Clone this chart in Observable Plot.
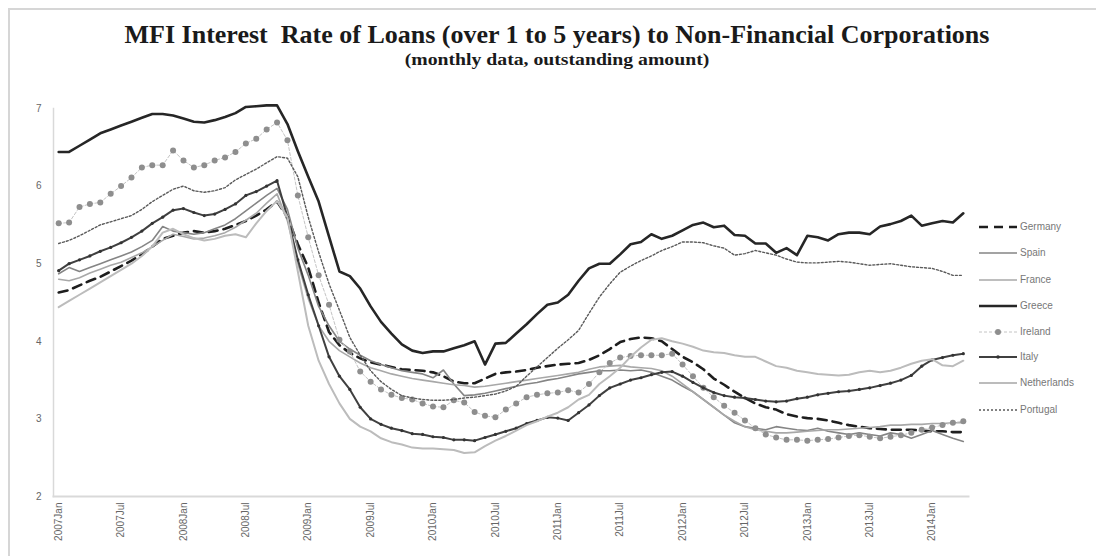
<!DOCTYPE html>
<html><head><meta charset="utf-8">
<script src="https://cdn.jsdelivr.net/npm/d3@7"></script>
<script src="https://cdn.jsdelivr.net/npm/@observablehq/plot@0.6"></script>
<style>
body{margin:0;background:#fff;}
#wrap{position:relative;width:1096px;height:556px;overflow:hidden;background:#fff;}
#frame{position:absolute;left:8px;top:8px;width:1200px;height:700px;border:2px solid #d6d6d6;box-sizing:border-box;}
#title{position:absolute;left:9px;top:21px;width:1096px;text-align:center;font-family:"Liberation Serif",serif;font-weight:bold;font-size:25px;color:#1a1a1a;white-space:pre;transform:scaleX(1.04);transform-origin:548px 0;}
#subtitle{position:absolute;left:9px;top:50px;width:1096px;text-align:center;font-family:"Liberation Serif",serif;font-weight:bold;font-size:17px;color:#1a1a1a;transform:scaleX(1.16);transform-origin:548px 0;}
#chart{position:absolute;left:0;top:80px;}
#legend{position:absolute;left:978px;top:0;font-family:"Liberation Sans",sans-serif;font-size:10px;color:#777;}
.row{position:absolute;left:0;white-space:nowrap;height:14px;}
.row svg{position:absolute;left:0;top:0;}
.row span{position:absolute;left:42px;top:0;line-height:14px;}
</style></head>
<body>
<div id="wrap">
  <div id="frame"></div>
  <div id="title">MFI Interest  Rate of Loans (over 1 to 5 years) to Non-Financial Corporations</div>
  <div id="subtitle">(monthly data, outstanding amount)</div>
  <div id="chart"></div>
  <div id="legend"></div>
</div>
<script>
// Monthly observations, 2007 Jan .. 2014 Apr
const tickLabels = ["2007Jan","2007Jul","2008Jan","2008Jul","2009Jan","2009Jul","2010Jan","2010Jul","2011Jan","2011Jul","2012Jan","2012Jul","2013Jan","2013Jul","2014Jan"];

const germany = [4.63,4.66,4.72,4.78,4.83,4.9,4.97,5.04,5.12,5.22,5.32,5.36,5.4,5.42,5.4,5.42,5.45,5.5,5.55,5.62,5.7,5.8,5.6,5.25,4.95,4.5,4.12,3.95,3.85,3.78,3.73,3.7,3.67,3.64,3.63,3.62,3.6,3.55,3.48,3.46,3.46,3.52,3.58,3.6,3.61,3.63,3.66,3.68,3.7,3.71,3.72,3.76,3.82,3.9,3.99,4.03,4.05,4.04,4.0,3.9,3.8,3.73,3.64,3.52,3.44,3.35,3.27,3.2,3.15,3.12,3.06,3.03,3.01,3.0,2.98,2.95,2.92,2.9,2.88,2.87,2.86,2.86,2.86,2.85,2.84,2.84,2.83,2.83];

const spain = [4.87,4.95,4.9,4.95,5.0,5.05,5.1,5.15,5.22,5.3,5.48,5.42,5.4,5.38,5.4,5.45,5.5,5.58,5.68,5.78,5.88,5.97,5.7,5.2,4.85,4.45,4.2,4.0,3.9,3.82,3.75,3.7,3.66,3.62,3.6,3.58,3.53,3.63,3.45,3.3,3.31,3.33,3.36,3.39,3.42,3.45,3.47,3.5,3.52,3.55,3.58,3.6,3.62,3.62,3.63,3.62,3.63,3.6,3.55,3.5,3.42,3.35,3.25,3.15,3.05,2.95,2.9,2.88,2.86,2.9,2.88,2.86,2.85,2.88,2.84,2.82,2.8,2.82,2.8,2.78,2.82,2.8,2.75,2.8,2.85,2.8,2.75,2.71];

const france = [4.8,4.78,4.82,4.88,4.93,4.98,5.02,5.08,5.14,5.22,5.3,5.38,5.35,5.32,5.33,5.36,5.4,5.47,5.56,5.65,5.78,5.9,5.55,5.0,4.55,4.2,4.0,3.88,3.8,3.72,3.66,3.62,3.58,3.55,3.52,3.5,3.48,3.46,3.44,3.43,3.41,3.42,3.44,3.46,3.48,3.5,3.52,3.54,3.56,3.58,3.6,3.64,3.67,3.68,3.69,3.67,3.66,3.65,3.62,3.55,3.45,3.35,3.25,3.15,3.05,2.97,2.9,2.86,2.84,2.82,2.82,2.83,2.84,2.85,2.86,2.86,2.87,2.88,2.89,2.9,2.92,2.92,2.93,2.93,2.94,2.94,2.95,2.95];

const greece = [6.44,6.44,6.52,6.6,6.68,6.73,6.78,6.83,6.88,6.93,6.93,6.91,6.87,6.83,6.82,6.85,6.89,6.94,7.02,7.03,7.04,7.04,6.8,6.45,6.12,5.8,5.35,4.9,4.84,4.68,4.45,4.25,4.1,3.96,3.88,3.85,3.87,3.87,3.91,3.95,4.0,3.7,3.97,3.98,4.1,4.22,4.35,4.47,4.5,4.6,4.78,4.94,5.0,5.0,5.12,5.25,5.28,5.38,5.32,5.36,5.43,5.5,5.53,5.47,5.49,5.37,5.36,5.26,5.26,5.14,5.2,5.11,5.36,5.34,5.3,5.38,5.4,5.4,5.38,5.48,5.51,5.55,5.62,5.49,5.52,5.55,5.53,5.65];

const ireland = [5.52,5.53,5.73,5.77,5.79,5.9,6.0,6.11,6.24,6.27,6.27,6.46,6.33,6.24,6.27,6.33,6.37,6.44,6.55,6.61,6.73,6.82,6.59,5.88,5.34,4.85,4.47,4.02,3.87,3.61,3.48,3.38,3.31,3.27,3.25,3.2,3.16,3.15,3.24,3.21,3.09,3.04,3.02,3.12,3.2,3.28,3.31,3.33,3.34,3.37,3.34,3.45,3.6,3.72,3.79,3.81,3.82,3.82,3.82,3.84,3.7,3.55,3.4,3.28,3.17,3.08,2.98,2.88,2.8,2.76,2.73,2.73,2.72,2.73,2.74,2.76,2.78,2.79,2.77,2.75,2.77,2.79,2.82,2.86,2.89,2.92,2.95,2.97];

const italy = [4.91,5.0,5.05,5.1,5.16,5.21,5.27,5.34,5.42,5.52,5.6,5.69,5.71,5.66,5.62,5.64,5.7,5.77,5.88,5.93,6.0,6.07,5.6,5.05,4.6,4.2,3.8,3.55,3.38,3.15,3.0,2.93,2.88,2.85,2.81,2.8,2.77,2.76,2.73,2.73,2.72,2.76,2.8,2.84,2.88,2.94,2.98,3.02,3.01,2.98,3.08,3.18,3.3,3.4,3.45,3.5,3.53,3.57,3.6,3.61,3.55,3.47,3.4,3.34,3.3,3.28,3.27,3.25,3.23,3.22,3.23,3.26,3.28,3.31,3.33,3.35,3.36,3.38,3.4,3.43,3.46,3.5,3.56,3.68,3.76,3.79,3.82,3.84];

const netherlands = [4.44,4.52,4.6,4.68,4.76,4.84,4.92,5.0,5.1,5.22,5.4,5.45,5.38,5.33,5.3,5.32,5.36,5.38,5.34,5.52,5.68,5.81,5.6,4.9,4.2,3.75,3.45,3.2,3.0,2.9,2.84,2.75,2.7,2.67,2.63,2.62,2.62,2.61,2.6,2.56,2.57,2.65,2.72,2.78,2.85,2.92,2.97,3.03,3.08,3.15,3.25,3.31,3.45,3.55,3.66,3.8,3.92,4.02,4.04,4.0,3.97,3.93,3.88,3.86,3.85,3.82,3.8,3.8,3.74,3.68,3.66,3.62,3.6,3.58,3.57,3.56,3.57,3.6,3.62,3.6,3.62,3.66,3.71,3.75,3.77,3.69,3.68,3.75];

const portugal = [5.26,5.3,5.36,5.43,5.5,5.54,5.58,5.62,5.7,5.8,5.88,5.96,6.0,5.94,5.92,5.94,5.98,6.08,6.15,6.22,6.3,6.38,6.36,6.12,5.6,5.15,4.74,4.4,4.05,3.82,3.62,3.48,3.38,3.3,3.27,3.25,3.24,3.24,3.25,3.27,3.28,3.3,3.32,3.36,3.42,3.55,3.67,3.79,3.91,4.02,4.14,4.36,4.57,4.74,4.89,4.97,5.04,5.1,5.17,5.22,5.28,5.28,5.27,5.23,5.2,5.11,5.13,5.17,5.14,5.11,5.06,5.02,5.01,5.01,5.02,5.03,5.02,5.0,4.98,4.99,5.0,4.98,4.96,4.95,4.94,4.9,4.85,4.85];

const seriesNames = ["Germany","Spain","France","Greece","Ireland","Italy","Netherlands","Portugal"];
const seriesValues = [germany, spain, france, greece, ireland, italy, netherlands, portugal];

const styles = {
  Germany:     {stroke:"#1e1e1e", strokeWidth:2.6, strokeDasharray:"9,6"},
  Spain:       {stroke:"#858585", strokeWidth:1.6},
  France:      {stroke:"#a8a8a8", strokeWidth:1.6},
  Greece:      {stroke:"#262626", strokeWidth:2.6},
  Ireland:     {stroke:"#c4c4c4", strokeWidth:1, strokeDasharray:"3,2", dots:true},
  Italy:       {stroke:"#404040", strokeWidth:2, marks:true},
  Netherlands: {stroke:"#bcbcbc", strokeWidth:2},
  Portugal:    {stroke:"#5a5a5a", strokeWidth:1.4, strokeDasharray:"2,2"}
};

const rows = [];
seriesNames.forEach((name, k) => {
  seriesValues[k].forEach((v, i) => rows.push({name, i, v}));
});

const marks = [
  Plot.frame({anchor:"left", stroke:"#d9d9d9", strokeWidth:1.5}),
  Plot.frame({anchor:"bottom", stroke:"#d9d9d9", strokeWidth:2}),
];
seriesNames.forEach(name => {
  const s = styles[name];
  const data = rows.filter(d => d.name === name);
  marks.push(Plot.line(data, {x:"i", y:"v", stroke:s.stroke, strokeWidth:s.strokeWidth,
    strokeDasharray:s.strokeDasharray, curve:"linear"}));
  if (s.dots) marks.push(Plot.dot(data, {x:"i", y:"v", r:3, fill:"#8e8e8e", stroke:"none"}));
  if (s.marks) marks.push(Plot.dot(data, {x:"i", y:"v", r:1.6, fill:"#333", stroke:"none"}));
});

const chart = Plot.plot({
  width: 1096,
  height: 476,
  marginTop: 28,
  marginBottom: 60,
  marginLeft: 53,
  marginRight: 128,
  style: {fontFamily:"Liberation Sans, sans-serif", fontSize:"10px", color:"#666", background:"transparent"},
  x: {domain:[-0.5, 87.5], ticks: d3.range(0, 85, 6), tickFormat: (d) => tickLabels[d/6],
      tickSize:0, tickPadding:6, tickRotate:-90, label:null},
  y: {domain:[2,7], ticks:[2,3,4,5,6,7], tickFormat: d => String(d), tickSize:0, tickPadding:12, label:null},
  marks
});
document.getElementById("chart").appendChild(chart);

// Legend
const legendTops = [220, 246, 273, 299, 325, 350, 376, 403];
const legend = document.getElementById("legend");
seriesNames.forEach((name, k) => {
  const s = styles[name];
  const row = document.createElement("div");
  row.className = "row";
  row.style.top = legendTops[k] + "px";
  const ns = "http://www.w3.org/2000/svg";
  const svg = document.createElementNS(ns, "svg");
  svg.setAttribute("width", 40); svg.setAttribute("height", 14);
  const ln = document.createElementNS(ns, "line");
  ln.setAttribute("x1", 1); ln.setAttribute("x2", 39); ln.setAttribute("y1", 7); ln.setAttribute("y2", 7);
  ln.setAttribute("stroke", s.stroke); ln.setAttribute("stroke-width", s.strokeWidth);
  if (s.strokeDasharray) ln.setAttribute("stroke-dasharray", s.strokeDasharray);
  svg.appendChild(ln);
  if (s.dots || s.marks) {
    const c = document.createElementNS(ns, "circle");
    c.setAttribute("cx", 20); c.setAttribute("cy", 7); c.setAttribute("r", s.dots ? 3 : 1.8);
    c.setAttribute("fill", s.dots ? "#8e8e8e" : "#333");
    svg.appendChild(c);
  }
  row.appendChild(svg);
  const sp = document.createElement("span");
  sp.textContent = name;
  row.appendChild(sp);
  legend.appendChild(row);
});
</script>
</body></html>
